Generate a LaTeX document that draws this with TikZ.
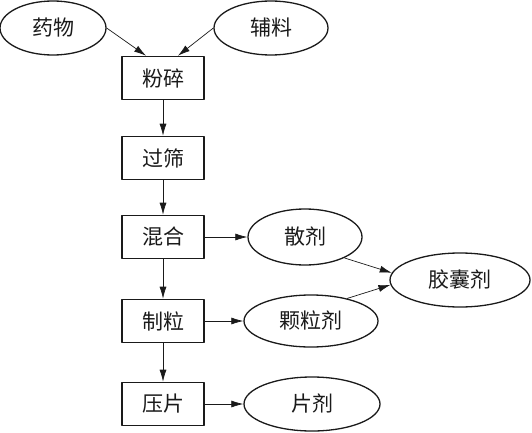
\documentclass[tikz,border=0pt]{standalone}
\usepackage{fontspec}
\newfontfamily\cjk{Noto Sans CJK SC}
\usetikzlibrary{shapes.geometric,arrows.meta}
\definecolor{ink}{HTML}{1A1A1A}

\begin{document}
\begin{tikzpicture}[x=1pt,y=1pt,line join=round,
  stepbox/.style={draw=ink,line width=1.6pt,rectangle,minimum width=82pt,minimum height=43pt,inner sep=0pt},
  oval/.style={draw=ink,line width=1.3pt,ellipse,inner sep=0pt},
  flow/.style={draw=ink,line width=0.7pt,-{Latex[length=12pt,width=7pt]}},
  every node/.style={font=\cjk\fontsize{21}{24}\selectfont,text=ink}]
  % canvas 532 x 432
  \useasboundingbox (0,0) rectangle (532,432);

  % ---- raw materials ----
  \node[oval,minimum width=106pt,minimum height=54pt] (yaowu) at (53,404) {药物};
  \node[oval,minimum width=114pt,minimum height=54pt] (fuliao) at (271,404) {辅料};

  % ---- process steps ----
  \node[stepbox] (fensui) at (163,354) {粉碎};
  \node[stepbox] (guoshai) at (163,274) {过筛};
  \node[stepbox] (hunhe) at (163,195) {混合};
  \node[stepbox] (zhili) at (163,111) {制粒};
  \node[stepbox] (yapian) at (163,28) {压片};

  % ---- dosage forms ----
  \node[oval,minimum width=114pt,minimum height=56pt] (sanji) at (305,195) {散剂};
  \node[oval,minimum width=134pt,minimum height=52pt] (keliji) at (311,111) {颗粒剂};
  \node[oval,minimum width=140pt,minimum height=54pt] (jiaonang) at (460,152) {胶囊剂};
  \node[oval,minimum width=136pt,minimum height=54pt] (pianji) at (312,28) {片剂};

  % ---- connectors ----
  \draw[flow] (yaowu.east) -- ([xshift=-17pt]fensui.north);
  \draw[flow] (fuliao.west) -- ([xshift=15pt]fensui.north);
  \foreach \a/\b in {fensui/guoshai,guoshai/hunhe,hunhe/zhili,zhili/yapian}{
    \draw[flow] (\a) -- (\b);
  }
  \draw[flow] (hunhe) -- (sanji);
  \draw[flow] (zhili) -- (keliji);
  \draw[flow] (yapian) -- (pianji);
  \draw[flow] (sanji.-28) -- (jiaonang.174);
  \draw[flow] (keliji.32) -- (jiaonang.184);
\end{tikzpicture}
\end{document}
